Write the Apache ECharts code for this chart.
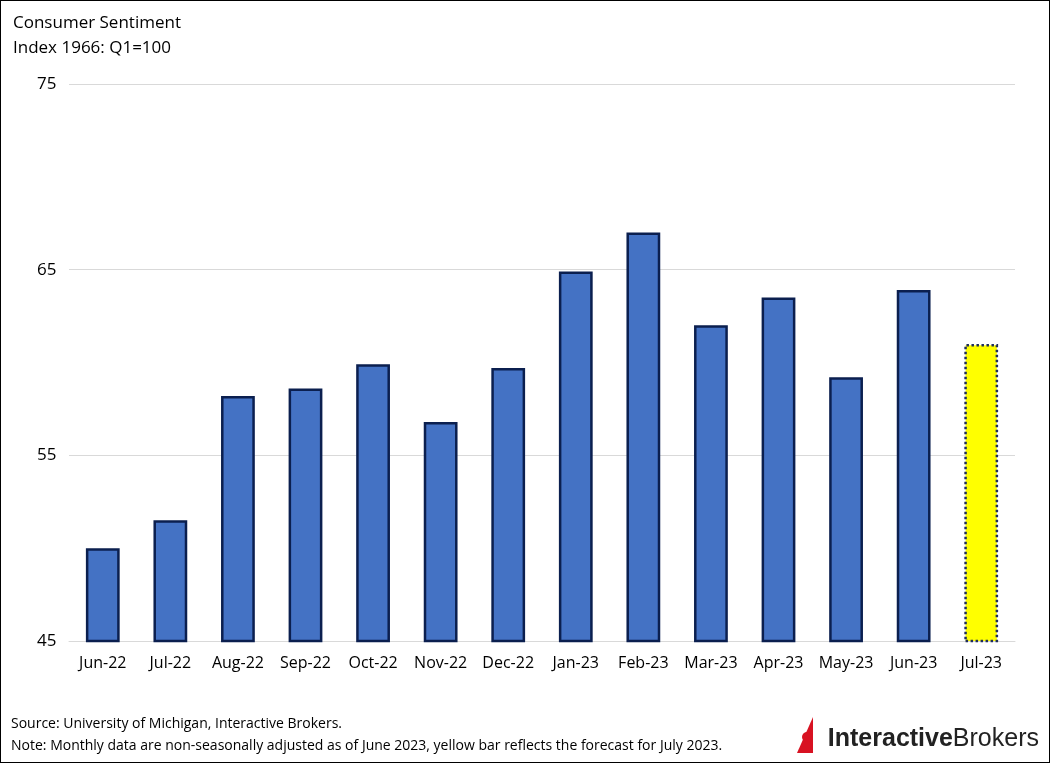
<!DOCTYPE html>
<html><head><meta charset="utf-8">
<script src="https://cdn.jsdelivr.net/npm/echarts@6/dist/echarts.min.js"></script>
<style>html,body{margin:0;padding:0;background:#fff}#c{width:1048px;height:761px;border:1px solid #000}</style>
</head><body><div id="c"></div>
<script>
const categories=['Jun-22','Jul-22','Aug-22','Sep-22','Oct-22','Nov-22','Dec-22','Jan-23','Feb-23','Mar-23','Apr-23','May-23','Jun-23','Jul-23'];
const values=[50.0,51.5,58.2,58.6,59.9,56.8,59.7,64.9,67.0,62.0,63.5,59.2,63.9,61.0];
const forecastIndex=13;
const yTicks=[45,55,65,75];
const F='"Open Sans", "Noto Sans", sans-serif';
const chart=echarts.init(document.getElementById('c'));
chart.setOption({
  animation:false,
  grid:{left:68,right:34,top:83,bottom:121},
  xAxis:{type:'category',data:categories,axisTick:{show:false},
    axisLine:{lineStyle:{color:'#d9d9d9'}},
    axisLabel:{interval:0,color:'#000',fontSize:16,fontFamily:F,margin:14}},
  yAxis:{type:'value',min:45,max:75,interval:10,
    axisLabel:{color:'#000',fontSize:17,fontFamily:F,margin:32,align:'left',
      formatter:v=>yTicks.includes(v)?String(v):''},
    splitLine:{lineStyle:{color:'#d9d9d9'}}},
  series:[{type:'bar',barWidth:'50%',
    data:values.map((v,i)=>i===forecastIndex?{value:v,itemStyle:{color:'#ffff00',borderColor:'#1f2d5a',borderType:'dotted',borderWidth:2.5}}:v),
    itemStyle:{color:'#4472c4',borderColor:'#0b1f4f',borderWidth:2.5}}],
  graphic:[
    {type:'text',left:12,top:10,style:{text:'Consumer Sentiment\nIndex 1966: Q1=100',fill:'#000',font:'17px '+F,lineHeight:25}},
    {type:'text',left:10,top:712,style:{text:'Source: University of Michigan, Interactive Brokers.\nNote: Monthly data are non-seasonally adjusted as of June 2023, yellow bar reflects the forecast for July 2023.',fill:'#000',font:'14px '+F,lineHeight:22}},
    {type:'polygon',shape:{points:[[796,752],[812,716],[812,752]]},style:{fill:'#d81222'}},
    {type:'circle',shape:{cx:806,cy:736,r:5},style:{fill:'#d81222'}},
    {type:'text',right:10,top:726,style:{text:'{a|Interactive}{b|Brokers}',rich:{a:{fontSize:25,fontWeight:'bold',fill:'#222',fontFamily:'"Liberation Sans", sans-serif'},b:{fontSize:25,fill:'#222',fontFamily:'"Liberation Sans", sans-serif'}}}}
  ]
});
</script></body></html>
